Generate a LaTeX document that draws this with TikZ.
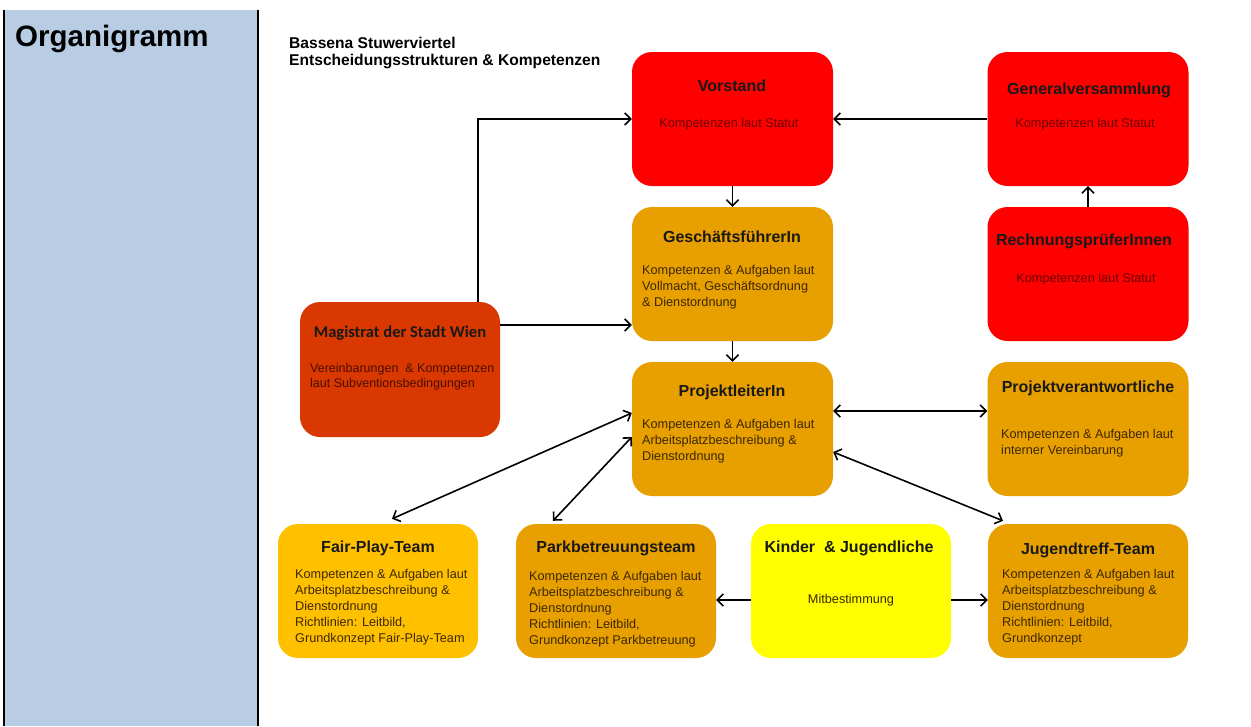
\documentclass[tikz,border=0pt]{standalone}
\usepackage{fontspec}
\setmainfont{Liberation Sans}
\newfontfamily\calibri{Carlito}
\usetikzlibrary{arrows.meta,calc}
\definecolor{panelblue}{HTML}{B8CCE4}
\definecolor{boxred}{HTML}{FF0000}
\definecolor{boxorange}{HTML}{E89F00}
\definecolor{boxfair}{HTML}{FFC000}
\definecolor{boxmag}{HTML}{D93800}
\definecolor{boxyellow}{HTML}{FFFF00}
\definecolor{txtred}{HTML}{6A0000}
\definecolor{txtorange}{HTML}{3C2800}
\definecolor{txtmag}{HTML}{4A0E00}
\tikzset{
  box/.style={rounded corners=20pt, minimum width=201pt, minimum height=134pt, inner sep=0pt, draw=none},
  ttl/.style={font=\fontsize{16}{19}\selectfont\bfseries, text=black!90, inner sep=0pt},
  bodyc/.style={font=\fontsize{12.7}{16}\selectfont, inner sep=0pt, align=center},
  bodyl/.style={font=\fontsize{12.7}{16}\selectfont, inner sep=0pt, align=left, anchor=north west},
  arr/.style={line width=1.6pt, -{Straight Barb[length=6pt,width=12pt]}},
  darr/.style={line width=1.6pt, {Straight Barb[length=6pt,width=12pt]}-{Straight Barb[length=6pt,width=12pt]}},
}
\begin{document}
\begin{tikzpicture}[x=1pt,y=-1pt]
\useasboundingbox (0,0) rectangle (1251,726);
% left panel
\fill[panelblue] (4,10) rectangle (258,726);
\draw[line width=2pt] (4,10) -- (4,726);
\draw[line width=2pt] (258,10) -- (258,726);
\node[anchor=base west, inner sep=0pt, font=\fontsize{29.5}{33}\selectfont\bfseries] (org) at (15,46) {Organigramm};
% heading
\node[anchor=base west, inner sep=0pt, font=\fontsize{15.6}{18}\selectfont\bfseries] (h1) at (289,48) {Bassena Stuwerviertel};
\node[anchor=base west, inner sep=0pt, font=\fontsize{15.6}{18}\selectfont\bfseries] (h2) at (289,65) {Entscheidungsstrukturen \& Kompetenzen};
% boxes
\node[box, fill=boxred] (vor) at (732.5,119) {};
\node[box, fill=boxred] (gv) at (1088,119) {};
\node[box, fill=boxorange] (gf) at (732.5,274) {};
\node[box, fill=boxred] (rp) at (1088,274) {};
\node[box, fill=boxmag, minimum width=200pt, minimum height=135pt] (mag) at (400,369.5) {};
\node[box, fill=boxorange] (pl) at (732.5,429) {};
\node[box, fill=boxorange] (pv) at (1088,429) {};
\node[box, fill=boxfair, minimum width=200pt] (fp) at (378,591) {};
\node[box, fill=boxorange, minimum width=200pt] (pb) at (616,591) {};
\node[box, fill=boxyellow, minimum width=200pt] (kj) at (851,591) {};
\node[box, fill=boxorange, minimum width=200pt] (jt) at (1088,591) {};
% texts
\node[ttl] (vor-t) at (732,86) {Vorstand};
\node[bodyc, text=txtred] (vor-b) at (729,124) {Kompetenzen laut Statut};
\node[ttl] (gv-t) at (1089,90) {Generalversammlung};
\node[bodyc, text=txtred] (gv-b) at (1085,124) {Kompetenzen laut Statut};
\node[ttl] (gf-t) at (732,237) {GeschäftsführerIn};
\node[bodyl, text=txtorange] (gf-b) at (642,265) {Kompetenzen \& Aufgaben laut\\Vollmacht, Geschäftsordnung\\\& Dienstordnung};
\node[ttl] (rp-t) at (1084,241) {RechnungsprüferInnen};
\node[bodyc, text=txtred] (rp-b) at (1086,279) {Kompetenzen laut Statut};
\node[ttl, font=\fontsize{16.5}{19}\selectfont\calibri\bfseries] (mag-t) at (400,333) {Magistrat der Stadt Wien};
\node[bodyl, text=txtmag, font=\fontsize{12.5}{15}\selectfont] (mag-b) at (310,363) {Vereinbarungen\ \ \& Kompetenzen\\laut Subventionsbedingungen};
\node[ttl] (pl-t) at (732,392) {ProjektleiterIn};
\node[bodyl, text=txtorange] (pl-b) at (642,419) {Kompetenzen \& Aufgaben laut\\Arbeitsplatzbeschreibung \&\\Dienstordnung};
\node[ttl] (pv-t) at (1088,388) {Projektverantwortliche};
\node[bodyl, text=txtorange] (pv-b) at (1001,429) {Kompetenzen \& Aufgaben laut\\interner Vereinbarung};
\node[ttl] (fp-t) at (378,548) {Fair-Play-Team};
\node[bodyl, text=txtorange] (fp-b) at (295,569) {Kompetenzen \& Aufgaben laut\\Arbeitsplatzbeschreibung \&\\Dienstordnung\\Richtlinien: Leitbild,\\Grundkonzept Fair-Play-Team};
\node[ttl] (pb-t) at (616,548) {Parkbetreuungsteam};
\node[bodyl, text=txtorange] (pb-b) at (529,571) {Kompetenzen \& Aufgaben laut\\Arbeitsplatzbeschreibung \&\\Dienstordnung\\Richtlinien: Leitbild,\\Grundkonzept Parkbetreuung};
\node[ttl] (kj-t) at (849,548) {Kinder\ \ \& Jugendliche};
\node[bodyc, text=txtorange] (kj-b) at (851,600) {Mitbestimmung};
\node[ttl] (jt-t) at (1088,550) {Jugendtreff-Team};
\node[bodyl, text=txtorange] (jt-b) at (1002,569) {Kompetenzen \& Aufgaben laut\\Arbeitsplatzbeschreibung \&\\Dienstordnung\\Richtlinien: Leitbild,\\Grundkonzept};
% connectors
\draw[arr] ($(mag.north)+(78,0)$) |- (vor.west);
\draw[arr] (mag.east |- 0,325) -- (gf.west |- 0,325);
\draw[arr] (gv.west) -- (vor.east);
\draw[arr] (vor.south) -- (gf.north);
\draw[arr] (gf.south) -- (pl.north);
\draw[arr] (rp.north) -- (gv.south);
\draw[darr] (pl.east |- 0,411) -- (pv.west |- 0,411);
\draw[darr] ($(pl.west)+(0,-16)$) -- ($(fp.north)+(14,-5)$);
\draw[darr] ($(pl.west)+(0,8)$) -- ($(pb.north)+(-63,-3)$);
\draw[darr] ($(pl.east)+(0,23)$) -- ($(jt.north)+(-85,-3)$);
\draw[arr] (kj.west |- 0,600) -- (pb.east |- 0,600);
\draw[arr] (kj.east |- 0,600) -- (jt.west |- 0,600);
\end{tikzpicture}
\end{document}
